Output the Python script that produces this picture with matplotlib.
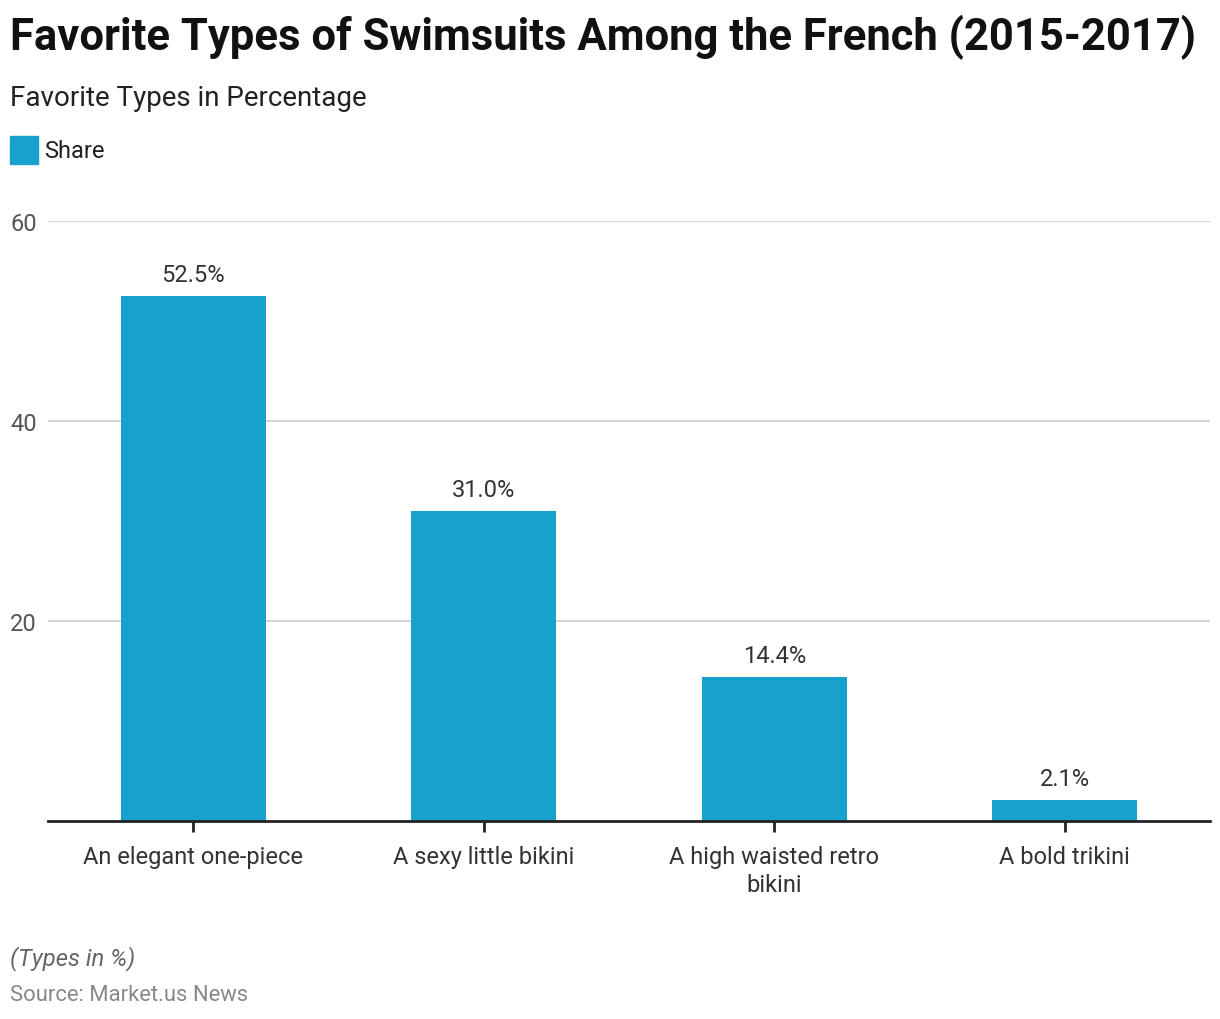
import matplotlib.pyplot as plt
from matplotlib.patches import Rectangle

plt.rcParams['font.family'] = ['Roboto', 'DejaVu Sans']

categories = ["An elegant one-piece", "A sexy little bikini",
              "A high waisted retro\nbikini", "A bold trikini"]
share = [52.5, 31.0, 14.4, 2.1]
yticks = [20, 40, 60]

bar_color = "#18a1cd"

fig = plt.figure(figsize=(12.2, 10.2), dpi=100)
ax = fig.add_axes([48 / 1220, 1 - 822 / 1020, (1210 - 48) / 1220, 600 / 1020])

x = range(len(categories))
bars = ax.bar(x, share, width=0.5, color=bar_color, zorder=3)
for b, v in zip(bars, share):
    ax.annotate("%.1f%%" % v, (b.get_x() + b.get_width() / 2, v),
                xytext=(0, 7), textcoords="offset points",
                ha="center", va="bottom", fontsize=17, color="#333333")

ax.set_xlim(-0.5, 3.5)
ax.set_ylim(0, 60)
ax.set_yticks(yticks)
ax.set_xticks(list(x))
ax.set_xticklabels(categories, fontsize=17, color="#333333", linespacing=1.3)
ax.tick_params(axis="y", length=0, labelsize=17, labelcolor="#555555", pad=8)
ax.tick_params(axis="x", length=8, width=2, color="#222222", pad=9)
ax.grid(axis="y", color="#cccccc", linewidth=1.2, zorder=0)
for s in ["top", "right", "left"]:
    ax.spines[s].set_visible(False)
ax.spines["bottom"].set_linewidth(2)
ax.spines["bottom"].set_color("#222222")
ax.spines["bottom"].set_zorder(4)

fig.text(10 / 1220, 1 - 37 / 1020, "Favorite Types of Swimsuits Among the French (2015-2017)",
         fontsize=31.4, fontweight="bold", va="center", ha="left", color="#111111")
fig.text(10 / 1220, 1 - 99 / 1020, "Favorite Types in Percentage",
         fontsize=20, va="center", ha="left", color="#222222")
fig.patches.append(Rectangle((10 / 1220, 1 - 165 / 1020), 28 / 1220, 28 / 1020,
                             transform=fig.transFigure, color=bar_color))
fig.text(44 / 1220, 1 - 152 / 1020, "Share", fontsize=17, va="center", ha="left", color="#222222")
fig.text(10 / 1220, 1 - 959 / 1020, "(Types in %)", fontsize=17.2, style="italic",
         va="center", ha="left", color="#666666")
fig.text(10 / 1220, 1 - 996 / 1020, "Source: Market.us News", fontsize=15.8,
         va="center", ha="left", color="#888888")

fig.savefig("out.png", dpi=100)
